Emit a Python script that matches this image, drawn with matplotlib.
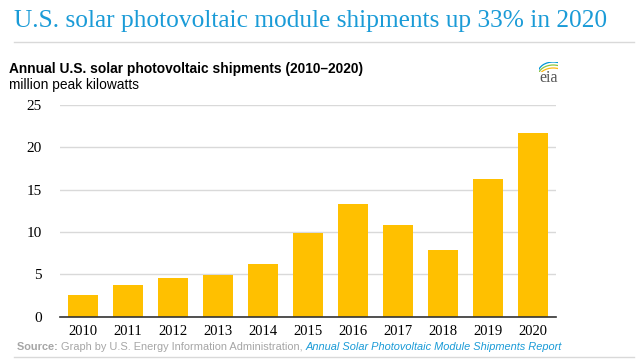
import matplotlib.pyplot as plt
from matplotlib.patches import Arc

# Annual U.S. solar photovoltaic shipments, million peak kilowatts
years = ["2010", "2011", "2012", "2013", "2014", "2015",
         "2016", "2017", "2018", "2019", "2020"]
shipments = [2.6, 3.75, 4.6, 4.95, 6.2, 9.9, 13.35, 10.8, 7.9, 16.3, 21.75]
y_ticks = [0, 5, 10, 15, 20, 25]

bar_color = "#ffc000"
title_blue = "#1a9bd7"
serif = "Liberation Serif"
sans = "Liberation Sans"

fig = plt.figure(figsize=(6.44, 3.62), dpi=100)

# headline and rule below it
fig.text(14 / 644, 1 - 21 / 362, "U.S. solar photovoltaic module shipments up 33% in 2020",
         family=serif, fontsize=18.3, color=title_blue, va="center", ha="left")
fig.add_artist(plt.Line2D([14 / 644, 634 / 644], [1 - 42 / 362] * 2,
                          color="#d9d9d9", linewidth=1))

# chart title + units
fig.text(9 / 644, 1 - 69 / 362, "Annual U.S. solar photovoltaic shipments (2010\u20132020)",
         family=sans, fontsize=9.9, fontweight="bold", va="center", ha="left")
fig.text(9 / 644, 1 - 85 / 362, "million peak kilowatts",
         family=sans, fontsize=9.9, va="center", ha="left")

# small eia mark
fig.text(549 / 644, 1 - 78 / 362, "eia", family=serif, fontsize=11.5,
         color="#555555", va="center", ha="center")
logo = fig.add_axes([539 / 644, 1 - 72 / 362, 19 / 644, 10 / 362])
logo.set_xlim(0, 1)
logo.set_ylim(0, 1)
logo.axis("off")
for dy, c in [(0.0, "#fdb913"), (0.3, "#8dc63f"), (0.6, "#0096d6")]:
    logo.add_patch(Arc((0.75, -0.7 + dy), 1.6, 2.2, theta1=5, theta2=175,
                       color=c, linewidth=0.9))

# main chart
ax = fig.add_axes([60 / 644, 1 - 316.7 / 362, 495.7 / 644, 211.7 / 362])
x = range(len(years))
ax.bar(x, shipments, width=0.665, color=bar_color, zorder=3)
ax.set_xlim(-0.5, len(years) - 0.5)
ax.set_ylim(0, 25)
ax.set_yticks(y_ticks)
ax.set_yticklabels([str(v) for v in y_ticks], family=serif, fontsize=11)
ax.set_xticks(list(x))
ax.set_xticklabels(years, family=serif, fontsize=10.5)
ax.grid(axis="y", color="#d9d9d9", linewidth=1, zorder=0)
for side in ["top", "right", "left"]:
    ax.spines[side].set_visible(False)
ax.spines["bottom"].set_color("#333333")
ax.spines["bottom"].set_linewidth(1.2)
ax.spines["bottom"].set_zorder(4)
ax.tick_params(axis="both", length=0, pad=6)
ax.tick_params(axis="y", pad=13)

# source line, pieces placed one after another
fig.canvas.draw()
renderer = fig.canvas.get_renderer()
pieces = [("Source: ", "bold", "normal", "#a6a6a6"),
          ("Graph by U.S. Energy Information Administration, ", "normal", "normal", "#a6a6a6"),
          ("Annual Solar Photovoltaic Module Shipments Report", "normal", "italic", title_blue)]
xpos = 17
for txt, weight, style, col in pieces:
    t = fig.text(xpos / 644, 1 - 347 / 362, txt, family=sans, fontsize=7.95,
                 fontweight=weight, style=style, color=col, va="center", ha="left")
    xpos += t.get_window_extent(renderer).width
fig.add_artist(plt.Line2D([14 / 644, 634 / 644], [1 - 357 / 362] * 2,
                          color="#d9d9d9", linewidth=1))

fig.savefig("out.png", dpi=100)
